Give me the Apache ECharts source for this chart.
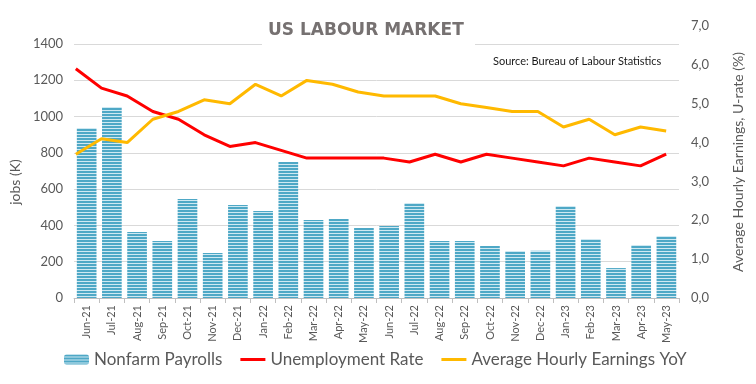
<!DOCTYPE html>
<html><head><meta charset="utf-8">
<script src="https://cdn.jsdelivr.net/npm/echarts@6/dist/echarts.min.js"></script>
<style>html,body{margin:0;padding:0;background:#fff}#c{width:756px;height:384px}</style>
</head><body><div id="c"></div>
<script>
var categories = ['Jun-21','Jul-21','Aug-21','Sep-21','Oct-21','Nov-21','Dec-21','Jan-22','Feb-22','Mar-22','Apr-22','May-22','Jun-22','Jul-22','Aug-22','Sep-22','Oct-22','Nov-22','Dec-22','Jan-23','Feb-23','Mar-23','Apr-23','May-23'];
var payrolls = [937,1053,364,314,546,248,513,480,750,430,436,386,397,523,314,314,287,259,260,507,325,165,292,342];
var unemployment = [5.9,5.4,5.2,4.8,4.6,4.2,3.9,4.0,3.8,3.6,3.6,3.6,3.6,3.5,3.7,3.5,3.7,3.6,3.5,3.4,3.6,3.5,3.4,3.7];
var earnings = [3.7,4.1,4.0,4.6,4.8,5.1,5.0,5.5,5.2,5.6,5.5,5.3,5.2,5.2,5.2,5.0,4.9,4.8,4.8,4.4,4.6,4.2,4.4,4.3];
var leftTicks = {min:0, max:1400, interval:200};
var rightTicks = {min:0, max:7, interval:1};

var pc = document.createElement('canvas');
pc.width = 4; pc.height = 3;
var g = pc.getContext('2d');
g.fillStyle = '#cfe9f2'; g.fillRect(0,0,4,3);
g.fillStyle = '#4ea8c6'; g.fillRect(0,0,4,2);

var lineIcon = 'path://M0,0L0.01,0L0.01,0.01L0,0.01Z M0,9.99L0.01,9.99L0.01,10L0,10Z M0,3.5L26,3.5L26,6.5L0,6.5Z M25.99,0L26,0L26,0.01L25.99,0.01Z';

var txt = '#595959';
var font = 'Lato';
var chart = echarts.init(document.getElementById('c'), null, {renderer:'canvas'});
chart.setOption({
  animation:false,
  backgroundColor:'#fff',
  textStyle:{fontFamily:font},
  grid:[
    {left:63, right:77, top:44, bottom:86},
    {left:63, right:77, top:26, bottom:86}
  ],
  graphic:[
    {type:'rect', shape:{x:262,y:14,width:213,height:34}, style:{fill:'#fff'}, z:5},
    {type:'text', left:268, top:22, style:{text:'US LABOUR MARKET', fill:'#767171', font:'bold 17px "DejaVu Sans"'}, z:6},
    {type:'text', left:493, top:56, style:{text:'Source: Bureau of Labour Statistics', fill:'#1a1a1a', font:'11px "Lato"'}, z:6}
  ],
  legend:{
    left:59, top:346, itemWidth:25, itemHeight:10, itemGap:18,
    textStyle:{color:txt, fontSize:17, fontFamily:font},
    data:[
      {name:'Nonfarm Payrolls'},
      {name:'Unemployment Rate', icon:lineIcon, itemStyle:{color:'#ff0000'}},
      {name:'Average Hourly Earnings YoY', icon:lineIcon, itemStyle:{color:'#ffb900'}}
    ]
  },
  xAxis:[
    {type:'category', gridIndex:0, data:categories, boundaryGap:true,
     axisLine:{lineStyle:{color:'#bfbfbf'}},
     axisTick:{show:true, length:5, lineStyle:{color:'#bfbfbf'}},
     axisLabel:{rotate:90, color:txt, fontSize:11, margin:7, interval:0}},
    {type:'category', gridIndex:1, data:categories, boundaryGap:true, show:false}
  ],
  yAxis:[
    {type:'value', gridIndex:0, min:leftTicks.min, max:leftTicks.max, interval:leftTicks.interval,
     name:'jobs (K)', nameLocation:'middle', nameGap:37, nameRotate:90,
     nameTextStyle:{color:txt, fontSize:14, padding:[0,0,0,-22]},
     axisLine:{show:false}, axisTick:{show:false},
     axisLabel:{color:txt, fontSize:13, margin:11, formatter:function(v){return String(v);}},
     splitLine:{lineStyle:{color:'#d9d9d9'}}},
    {type:'value', gridIndex:1, position:'right', min:rightTicks.min, max:rightTicks.max, interval:rightTicks.interval,
     name:'Average Hourly Earnings, U-rate (%)', nameLocation:'middle', nameGap:52, nameRotate:90,
     nameTextStyle:{color:txt, fontSize:14},
     axisLine:{show:false}, axisTick:{show:false},
     axisLabel:{color:txt, fontSize:13, margin:12, formatter:function(v){return v.toFixed(1).replace('.',',');}},
     splitLine:{show:false}}
  ],
  series:[
    {name:'Nonfarm Payrolls', type:'bar', xAxisIndex:0, yAxisIndex:0, data:payrolls,
     barCategoryGap:'22%', itemStyle:{color:{image:pc, repeat:'repeat'}}},
    {name:'Unemployment Rate', type:'line', xAxisIndex:1, yAxisIndex:1, data:unemployment,
     symbol:'none', lineStyle:{color:'#ff0000', width:3}, itemStyle:{color:'#ff0000'}, z:3},
    {name:'Average Hourly Earnings YoY', type:'line', xAxisIndex:1, yAxisIndex:1, data:earnings,
     symbol:'none', lineStyle:{color:'#ffb900', width:3}, itemStyle:{color:'#ffb900'}, z:3}
  ]
});
</script></body></html>
